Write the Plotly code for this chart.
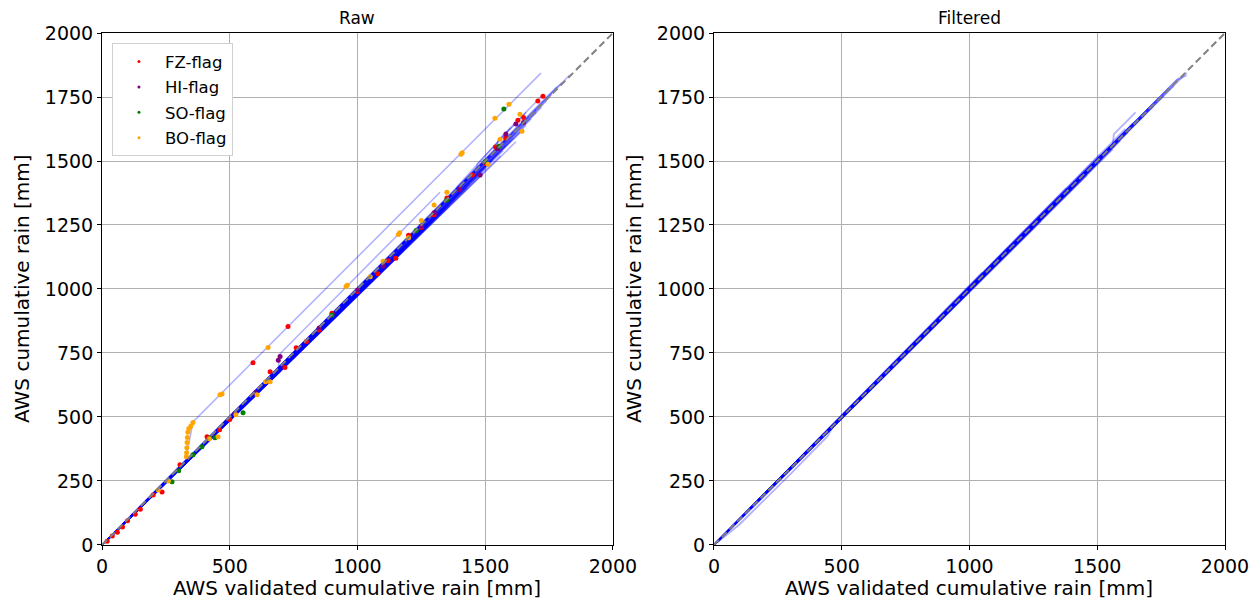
import plotly.graph_objects as go

# ---------------- data (mm) ----------------
# Raw: station cumulative-rain traces (validated x, AWS y), vertices
raw_x = [
    [0, 1830], [0, 1800], [0, 1780], [0, 1760], [0, 1740], [0, 1720], [0, 1700],
    [0, 1680], [0, 1660], [0, 1640], [0, 1620], [0, 1600], [0, 1580], [0, 1550],
    [0, 1520], [0, 1500], [0, 1470], [0, 1440], [0, 1400], [0, 1350], [0, 1300],
    [0, 1250], [0, 1200], [0, 1100], [0, 1000], [0, 900], [0, 800],
    [0, 1650], [0, 1610], [0, 1570], [0, 1530], [0, 1480], [0, 1420], [0, 1380],
    [0, 1330], [0, 1280], [0, 1150], [0, 1050], [0, 950], [0, 850], [0, 700],
    [0, 1700], [0, 1660], [0, 1600], [0, 1540], [0, 1500],
    [0, 1620], [0, 1560], [0, 1490], [0, 1430], [0, 1360], [0, 1260], [0, 1180],
    [0, 1580], [0, 1450], [0, 1320], [0, 1230],
    [0, 330, 333, 356, 1718],
    [0, 690, 695, 1323],
    [0, 1460, 1470, 1660],
    [0, 1540, 1550, 1720],
    [0, 1380, 1390, 1600],
]
raw_y = [
    [0, 1835], [0, 1805], [0, 1790], [0, 1760], [0, 1735], [0, 1710], [0, 1690],
    [0, 1665], [0, 1640], [0, 1615], [0, 1610], [0, 1580], [0, 1560], [0, 1530],
    [0, 1500], [0, 1470], [0, 1440], [0, 1410], [0, 1380], [0, 1320], [0, 1280],
    [0, 1230], [0, 1170], [0, 1080], [0, 985], [0, 880], [0, 790],
    [0, 1625], [0, 1590], [0, 1540], [0, 1505], [0, 1450], [0, 1395], [0, 1350],
    [0, 1300], [0, 1255], [0, 1120], [0, 1030], [0, 925], [0, 830], [0, 680],
    [0, 1700], [0, 1665], [0, 1598], [0, 1545], [0, 1500],
    [0, 1575], [0, 1520], [0, 1450], [0, 1395], [0, 1325], [0, 1230], [0, 1150],
    [0, 1580], [0, 1452], [0, 1318], [0, 1232],
    [0, 335, 360, 481, 1843],
    [0, 690, 745, 1378],
    [0, 1455, 1490, 1690],
    [0, 1535, 1580, 1752],
    [0, 1378, 1400, 1630],
]

# Filtered: station traces
filt_x = [
    [0, 1850], [0, 1820], [0, 1800], [0, 1780], [0, 1760], [0, 1740], [0, 1720],
    [0, 1700], [0, 1680], [0, 1650], [0, 1620], [0, 1600], [0, 1570], [0, 1540],
    [0, 1500], [0, 1450], [0, 1400], [0, 1300], [0, 1200], [0, 1100], [0, 900],
    [0, 1640], [0, 1590], [0, 1550], [0, 1520], [0, 1480], [0, 1430], [0, 1350],
    [0, 1250], [0, 1150], [0, 1000],
    [0, 1610], [0, 1560], [0, 1510], [0, 1460], [0, 1380], [0, 1280], [0, 1050],
    [0, 1700], [0, 1630], [0, 1530],
    [0, 100, 300, 443, 470],
    [0, 1560, 1565, 1650],
    [0, 1810, 1850],
]
filt_y = [
    [0, 1845], [0, 1825], [0, 1795], [0, 1785], [0, 1755], [0, 1745], [0, 1715],
    [0, 1705], [0, 1675], [0, 1655], [0, 1612], [0, 1605], [0, 1562], [0, 1545],
    [0, 1490], [0, 1458], [0, 1392], [0, 1308], [0, 1192], [0, 1108], [0, 893],
    [0, 1648], [0, 1580], [0, 1558], [0, 1510], [0, 1488], [0, 1420], [0, 1360],
    [0, 1240], [0, 1160], [0, 990],
    [0, 1625], [0, 1545], [0, 1525], [0, 1445], [0, 1395], [0, 1265], [0, 1065],
    [0, 1700], [0, 1630], [0, 1530],
    [0, 80, 278, 423, 468],
    [0, 1560, 1605, 1690],
    [0, 1815, 1835],
]

# Flag points (raw panel)
fz_x = [20, 40, 60, 80, 100, 130, 150, 200, 235, 305, 411, 460, 500, 591, 658, 716, 728,
        760, 800, 850, 900, 1000, 1080, 1120, 1150, 1200, 1250, 1300, 1350, 1400, 1450,
        1500, 1540, 1580, 1628, 1650, 1706, 1726]
fz_y = [15, 35, 50, 70, 95, 120, 140, 195, 207, 313, 423, 450, 490, 712, 677, 693, 853,
        770, 795, 840, 905, 990, 1060, 1110, 1120, 1210, 1240, 1290, 1355, 1390, 1445,
        1490, 1555, 1590, 1659, 1670, 1734, 1753]

hi_x = [520, 600, 697, 690, 850, 1000, 1100, 1250, 1300, 1400, 1480, 1500, 1550, 1581, 1620, 1650]
hi_y = [515, 595, 736, 722, 848, 995, 1090, 1245, 1298, 1388, 1445, 1495, 1548, 1605, 1645, 1650]

so_x = [274, 300, 356, 391, 420, 442, 552, 900, 1230, 1350, 1500, 1554, 1573]
so_y = [247, 290, 352, 384, 418, 419, 517, 898, 1228, 1348, 1498, 1558, 1703]

bo_x = [220, 260, 330, 331, 332, 333, 334, 336, 340, 348, 356, 420, 454, 462, 470, 524,
        607, 640, 650, 658, 955, 960, 1050, 1100, 1160, 1165, 1200, 1250, 1300, 1350,
        1405, 1410, 1511, 1538, 1558, 1593, 1636, 1644]
bo_y = [215, 250, 345, 360, 380, 400, 420, 440, 455, 465, 478, 415, 423, 587, 590, 509,
        587, 638, 771, 638, 1010, 1015, 1048, 1108, 1213, 1220, 1200, 1268, 1328, 1378,
        1526, 1532, 1487, 1667, 1585, 1722, 1683, 1616]

diag = [0, 2000]
x_ticks = [0, 500, 1000, 1500, 2000]
y_ticks = [0, 250, 500, 750, 1000, 1250, 1500, 1750, 2000]
flag_names = ["FZ-flag", "HI-flag", "SO-flag", "BO-flag"]
flag_colors = ["red", "purple", "green", "orange"]

# ---------------- figure ----------------
FONT = "DejaVu Sans"
LINE_COL = "rgba(0,0,255,0.3)"
fig = go.Figure()

for xs, ys in zip(raw_x, raw_y):
    fig.add_trace(go.Scatter(x=xs, y=ys, mode="lines", line=dict(color=LINE_COL, width=1.6),
                             showlegend=False, hoverinfo="skip", xaxis="x", yaxis="y"))
for xs, ys in zip(filt_x, filt_y):
    fig.add_trace(go.Scatter(x=xs, y=ys, mode="lines", line=dict(color=LINE_COL, width=1.8),
                             showlegend=False, hoverinfo="skip", xaxis="x2", yaxis="y2"))

for (px, py), name, col in zip([(fz_x, fz_y), (hi_x, hi_y), (so_x, so_y), (bo_x, bo_y)],
                               flag_names, flag_colors):
    fig.add_trace(go.Scatter(x=px, y=py, mode="markers", marker=dict(color=col, size=5),
                             showlegend=False, xaxis="x", yaxis="y"))
    fig.add_trace(go.Scatter(x=[None], y=[None], mode="markers", name=name,
                             marker=dict(color=col, size=3), legendgroup=name,
                             xaxis="x", yaxis="y"))

for ax, ay in (("x", "y"), ("x2", "y2")):
    fig.add_trace(go.Scatter(x=diag, y=diag, mode="lines",
                             line=dict(color="gray", width=2, dash="7px,4px"),
                             showlegend=False, hoverinfo="skip", xaxis=ax, yaxis=ay))

axis_common = dict(range=[0, 2000], showgrid=True, gridcolor="#b0b0b0", gridwidth=1,
                   showline=True, linecolor="black", linewidth=1, mirror=True,
                   ticks="outside", ticklen=4, tickcolor="black", zeroline=False,
                   automargin=False,
                   tickfont=dict(family=FONT, size=19, color="black"))

XD1 = [0.0813, 0.4884]
XD2 = [0.5689, 0.9761]
YD = [0.0917, 0.945]

def ann(text, x, y, size, angle=0):
    return dict(text=text, x=x, y=y, xref="paper", yref="paper", xanchor="center",
                yanchor="middle", showarrow=False, textangle=angle,
                font=dict(family=FONT, size=size, color="black"))

fig.update_layout(
    width=1255, height=600,
    margin=dict(l=0, r=0, t=0, b=0, autoexpand=False),
    paper_bgcolor="white", plot_bgcolor="white",
    font=dict(family=FONT, color="black"),
    xaxis=dict(domain=XD1, anchor="y", tickvals=x_ticks, **axis_common),
    yaxis=dict(domain=YD, anchor="x", tickvals=y_ticks, **axis_common),
    xaxis2=dict(domain=XD2, anchor="y2", tickvals=x_ticks, **axis_common),
    yaxis2=dict(domain=YD, anchor="x2", tickvals=y_ticks, **axis_common),
    legend=dict(x=0.0892, y=0.928, xanchor="left", yanchor="top",
                bgcolor="white", bordercolor="#d0d0d0", borderwidth=1,
                font=dict(family=FONT, size=16.5, color="black"),
                traceorder="grouped", tracegroupgap=1, itemwidth=42),
    annotations=[
        ann("Raw", sum(XD1) / 2, 1 - 18 / 600, 17),
        ann("Filtered", sum(XD2) / 2, 1 - 18 / 600, 17),
        ann("AWS validated cumulative rain [mm]", sum(XD1) / 2, 1 - 588 / 600, 20),
        ann("AWS validated cumulative rain [mm]", sum(XD2) / 2, 1 - 588 / 600, 20),
        ann("AWS cumulative rain [mm]", 22 / 1255, 1 - 289 / 600, 20, -90),
        ann("AWS cumulative rain [mm]", 634 / 1255, 1 - 289 / 600, 20, -90),
    ],
)

fig.write_html("out.html")
